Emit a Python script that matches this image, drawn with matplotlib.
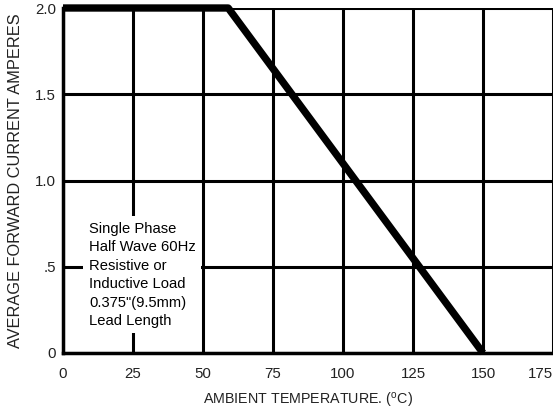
import matplotlib
matplotlib.use("Agg")
import matplotlib.pyplot as plt

plt.rcParams['font.family'] = ['Liberation Sans', 'DejaVu Sans']

# derating curve
temp = [0, 59, 150]
amps = [2.0, 2.0, 0.0]

xticks = [0, 25, 50, 75, 100, 125, 150, 175]
yticks = [0, 0.5, 1.0, 1.5, 2.0]
ylabels = ['0', '.5', '1.0', '1.5', '2.0']

note = 'Single Phase\nHalf Wave 60Hz\nResistive or\nInductive Load\n0.375"(9.5mm)\nLead Length'

fig = plt.figure(figsize=(5.53, 4.12), dpi=100)
ax = fig.add_axes([63/553, 1-353/412, 1-63/553, 345/412])

ax.set_xlim(0, 175)
ax.set_ylim(0, 2.0)
ax.set_xticks(xticks)
ax.set_yticks(yticks)
ax.set_yticklabels(ylabels)
ax.tick_params(axis='x', length=0, labelsize=10.8, pad=10, colors='#222222')
ax.tick_params(axis='y', length=0, labelsize=10.8, pad=5, colors='#222222')
ax.xaxis.get_ticklabels()[-1].set_horizontalalignment('right')
ax.grid(True, color='black', linewidth=2.2)
ax.set_axisbelow(True)

for s in ['top', 'right']:
    ax.spines[s].set_visible(False)
for s in ['left', 'bottom']:
    ax.spines[s].set_linewidth(2.5)

ax.plot(temp, amps, color='black', linewidth=5.3, solid_capstyle='butt', clip_on=False, zorder=5)

ax.text(9.3, 0.76, note, fontsize=10.6, va='top', ha='left', linespacing=1.4,
        bbox=dict(facecolor='white', edgecolor='none', pad=4), zorder=4)

ax.set_xlabel('AMBIENT TEMPERATURE. ($^\\mathregular{o}$C)', fontsize=10.3, labelpad=7, color='#222222')
ax.set_ylabel('AVERAGE FORWARD CURRENT AMPERES', fontsize=11.8, labelpad=9, color='#222222')

fig.savefig('out.png', dpi=100)
